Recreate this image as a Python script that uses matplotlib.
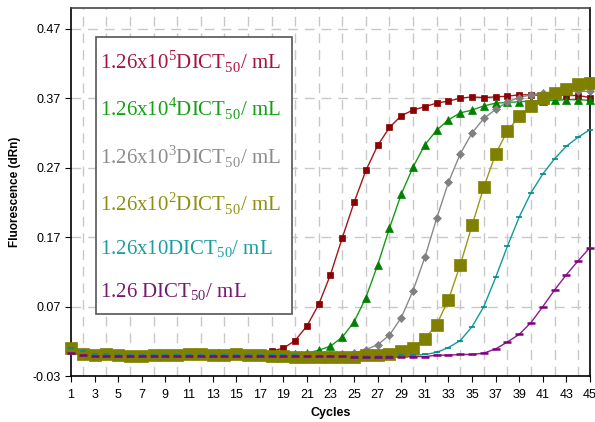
import numpy as np
import matplotlib
matplotlib.use('Agg')
import matplotlib.pyplot as plt
from matplotlib.lines import Line2D

cycles = np.arange(1, 46)

# fluorescence (dRn) per cycle, one list per dilution
red = [0.010, 0.004, 0.002, 0.002, 0.001, 0.000, 0.000, 0.000, 0.000, 0.000,
       0.001, 0.001, 0.000, 0.000, 0.001, 0.001, 0.002, 0.006, 0.010, 0.021,
       0.042, 0.073, 0.116, 0.169, 0.220, 0.266, 0.302, 0.328, 0.345, 0.353,
       0.358, 0.363, 0.366, 0.370, 0.372, 0.371, 0.372, 0.373, 0.375, 0.375,
       0.374, 0.375, 0.374, 0.374, 0.371]
green = [0.010, 0.004, 0.001, 0.001, 0.001, 0.000, 0.000, 0.000, 0.000, 0.000,
         0.001, 0.001, 0.000, 0.000, 0.001, 0.000, 0.000, 0.000, 0.000, 0.001,
         0.003, 0.007, 0.013, 0.026, 0.048, 0.083, 0.130, 0.183, 0.232, 0.271,
         0.303, 0.324, 0.339, 0.349, 0.353, 0.359, 0.363, 0.364, 0.365, 0.366,
         0.366, 0.367, 0.368, 0.368, 0.367]
grey = [0.010, 0.004, 0.001, 0.001, 0.000, 0.000, 0.000, 0.000, 0.000, 0.000,
        0.001, 0.001, 0.000, 0.000, 0.001, 0.000, 0.000, 0.000, 0.000, 0.000,
        0.000, 0.000, 0.000, 0.001, 0.003, 0.008, 0.015, 0.029, 0.054, 0.093,
        0.141, 0.197, 0.249, 0.290, 0.320, 0.341, 0.354, 0.365, 0.371, 0.375,
        0.378, 0.379, 0.380, 0.380, 0.380]
olive = [0.010, 0.002, 0.000, 0.002, 0.000, -0.001, -0.001, 0.000, 0.000, 0.000,
         0.001, 0.001, 0.000, 0.000, 0.001, 0.000, 0.000, -0.001, -0.001, -0.002,
         -0.003, -0.003, -0.002, -0.002, -0.002, 0.000, 0.000, 0.002, 0.006, 0.011,
         0.024, 0.044, 0.080, 0.130, 0.187, 0.242, 0.290, 0.323, 0.344, 0.359,
         0.370, 0.378, 0.384, 0.390, 0.392]
cyan = [0.010, 0.006, 0.002, 0.001, 0.000, 0.000, 0.000, 0.000, 0.000, 0.000,
        0.000, 0.000, 0.000, 0.000, 0.000, 0.000, 0.000, 0.000, 0.000, 0.000,
        -0.001, -0.001, -0.001, -0.001, -0.001, -0.001, -0.001, -0.001, 0.000, 0.000,
        0.001, 0.004, 0.011, 0.021, 0.041, 0.070, 0.112, 0.157, 0.199, 0.234,
        0.261, 0.283, 0.301, 0.314, 0.325]
purple = [0.003, 0.000, -0.001, -0.001, -0.001, -0.001, -0.001, -0.001, -0.001, -0.001,
          -0.001, -0.001, -0.001, -0.001, -0.001, -0.001, -0.001, -0.001, -0.001, -0.001,
          -0.001, -0.001, -0.001, -0.001, -0.002, -0.002, -0.002, -0.002, -0.002, -0.002,
          -0.002, 0.000, 0.000, 0.001, 0.001, 0.003, 0.009, 0.019, 0.030, 0.047,
          0.070, 0.094, 0.116, 0.136, 0.155]

labels = [r'1.26x10$^{\mathrm{5}}$DICT$_{\mathrm{50}}$/ mL',
          r'1.26x10$^{\mathrm{4}}$DICT$_{\mathrm{50}}$/ mL',
          r'1.26x10$^{\mathrm{3}}$DICT$_{\mathrm{50}}$/ mL',
          r'1.26x10$^{\mathrm{2}}$DICT$_{\mathrm{50}}$/ mL',
          r'1.26x10DICT$_{\mathrm{50}}$/ mL',
          r'1.26 DICT$_{\mathrm{50}}$/ mL']
label_colors = ['#a8123e', '#13a013', '#8c8c8c', '#8f8f10', '#1a9fa0', '#761a6e']

plt.rcParams['font.family'] = ['Liberation Sans', 'DejaVu Sans']
plt.rcParams['mathtext.fontset'] = 'custom'
plt.rcParams['mathtext.rm'] = 'Liberation Serif'

fig = plt.figure(figsize=(5.95, 4.22), dpi=100)
ax = fig.add_axes([0.1193, 0.109, 0.8723, 0.872])

series = [
    (red, '#8b0000', '#a01818', 's', 5, 0),
    (green, '#008000', '#159a15', '^', 6, 0),
    (grey, '#808080', '#8a8a8a', 'D', 4, 0),
    (olive, '#808000', '#9a9a10', 's', 8.5, 0),
    (cyan, '#008b8b', '#119a9a', '_', 4, 1.2),
    (purple, '#800080', '#901a90', '_', 6, 1.8),
]
for vals, mc, lc, m, ms, mew in series:
    ax.plot(cycles, vals, color=lc, linewidth=1.0, clip_on=False, zorder=3)
    ax.plot(cycles, vals, linestyle='none', marker=m, markersize=ms,
            markerfacecolor=mc, markeredgecolor=mc,
            markeredgewidth=mew if mew else 0.5, clip_on=False, zorder=4)

ax.set_xlim(1, 45)
ax.set_ylim(-0.03, 0.50)
ax.set_xticks(np.arange(1, 46, 2))
ax.set_xticks(np.arange(1, 46, 1), minor=True)
ax.set_yticks([-0.03, 0.07, 0.17, 0.27, 0.37, 0.47])
ax.set_yticklabels(['-0.03', '0.07', '0.17', '0.27', '0.37', '0.47'])
ax.tick_params(axis='both', labelsize=9, length=4, direction='out', width=0.8)
ax.tick_params(axis='x', which='minor', length=0)
ax.tick_params(axis='x', pad=5)

ax.grid(True, which='minor', axis='x', color='#c8c8c8', linestyle=(0, (7, 5)), linewidth=1)
ax.grid(True, which='major', axis='y', color='#c8c8c8', linestyle=(0, (7, 5)), linewidth=1)
ax.set_axisbelow(True)

for s in ['left', 'bottom', 'right']:
    ax.spines[s].set_color('black')
    ax.spines[s].set_linewidth(1.2)
ax.spines['top'].set_color('#444444')
ax.spines['top'].set_linewidth(1.2)

ax.set_xlabel('Cycles', fontsize=9, fontweight='bold', labelpad=5)
ax.set_ylabel('Fluorescence (dRn)', fontsize=8.5, fontweight='bold', labelpad=8)

handles = [Line2D([], [], linestyle='none') for _ in labels]
leg = ax.legend(handles, labels, loc='upper left', bbox_to_anchor=(0.161, 0.912),
                bbox_transform=fig.transFigure, handlelength=0, handletextpad=-0.35,
                fancybox=False, framealpha=1, edgecolor='#555555',
                prop={'family': 'Liberation Serif', 'size': 15},
                labelspacing=1.02, borderpad=0.55, borderaxespad=0)
leg.get_frame().set_linewidth(1.2)
leg.set_zorder(10)
for t, c in zip(leg.get_texts(), label_colors):
    t.set_color(c)

fig.savefig('out.png', dpi=100)
